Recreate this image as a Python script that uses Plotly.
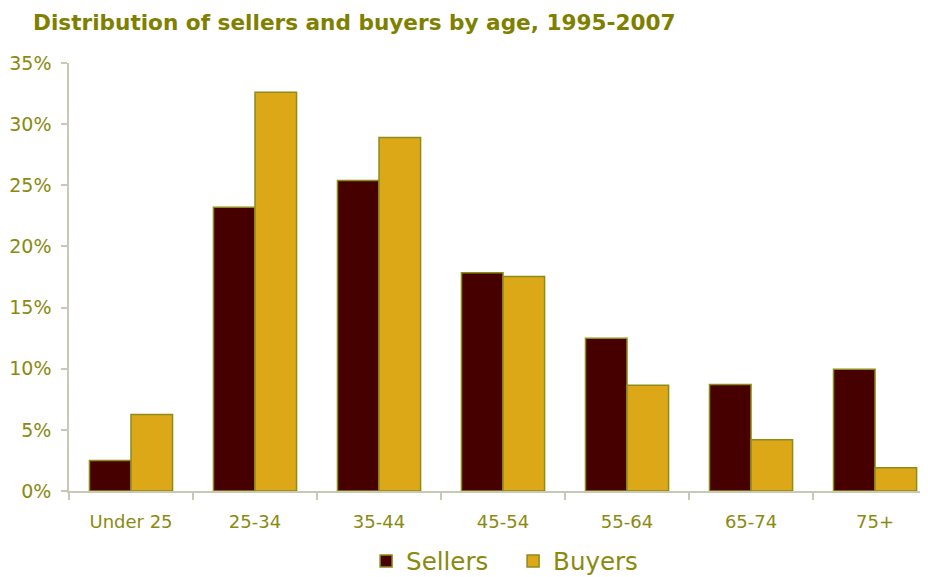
import plotly.graph_objects as go

categories = ["Under 25", "25-34", "35-44", "45-54", "55-64", "65-74", "75+"]
sellers = [2.5, 23.2, 25.4, 17.85, 12.5, 8.7, 9.95]
buyers = [6.25, 32.6, 28.9, 17.55, 8.65, 4.2, 1.9]
y_ticks = [0, 5, 10, 15, 20, 25, 30, 35]
y_tick_labels = ["0%", "5%", "10%", "15%", "20%", "25%", "30%", "35%"]
title_text = "Distribution of sellers and buyers by age, 1995-2007"

text_color = "#8A8A10"
outline = "#8C8C1A"
axis_color = "#C8C8B4"
font_family = "DejaVu Sans, Verdana, sans-serif"

W, H = 920, 569
L, T, B = 61, 55, 86
PW, PH = W - L, H - T - B

fig = go.Figure()
fig.add_trace(go.Bar(
    x=categories, y=sellers, name="Sellers",
    marker=dict(color="#460000", line=dict(color=outline, width=1.5)),
))
fig.add_trace(go.Bar(
    x=categories, y=buyers, name="Buyers",
    marker=dict(color="#DCA818", line=dict(color=outline, width=1.5)),
))

fig.add_annotation(
    text="<b>" + title_text + "</b>",
    xref="paper", yref="paper",
    x=(24 - L) / PW, xanchor="left",
    y=1 + (T - 14) / PH, yanchor="middle",
    showarrow=False, borderpad=0,
    font=dict(family=font_family, size=21.6, color="#7F7F00"),
)

fig.update_layout(
    width=W, height=H,
    paper_bgcolor="white", plot_bgcolor="white",
    margin=dict(l=L, r=0, t=T, b=B, autoexpand=False),
    barmode="group", bargap=0.33, bargroupgap=0,
    font=dict(family=font_family, color=text_color),
    showlegend=True,
    legend=dict(
        orientation="h", x=0.549, xanchor="center", xref="container",
        y=16 / H, yanchor="middle", yref="container",
        font=dict(size=24.5, color=text_color),
        itemwidth=30, traceorder="normal", entrywidth=102,
    ),
)
fig.update_xaxes(
    range=[-0.5, 6.427], automargin=False,
    showline=True, linecolor=axis_color, linewidth=1.5,
    ticks="outside", tickson="boundaries", ticklen=7, tickcolor=axis_color, tickwidth=1.5,
    tickfont=dict(size=18, color=text_color, family=font_family),
    ticklabelstandoff=14,
    showgrid=False, zeroline=False,
)
fig.update_yaxes(
    range=[0, 35], automargin=False,
    tickvals=y_ticks, ticktext=y_tick_labels,
    showline=True, linecolor=axis_color, linewidth=1.5,
    ticks="outside", ticklen=6, tickcolor=axis_color, tickwidth=1.5,
    tickfont=dict(size=19, color=text_color, family=font_family),
    ticklabelstandoff=6,
    showgrid=False, zeroline=False,
)

fig.write_html("out.html")
